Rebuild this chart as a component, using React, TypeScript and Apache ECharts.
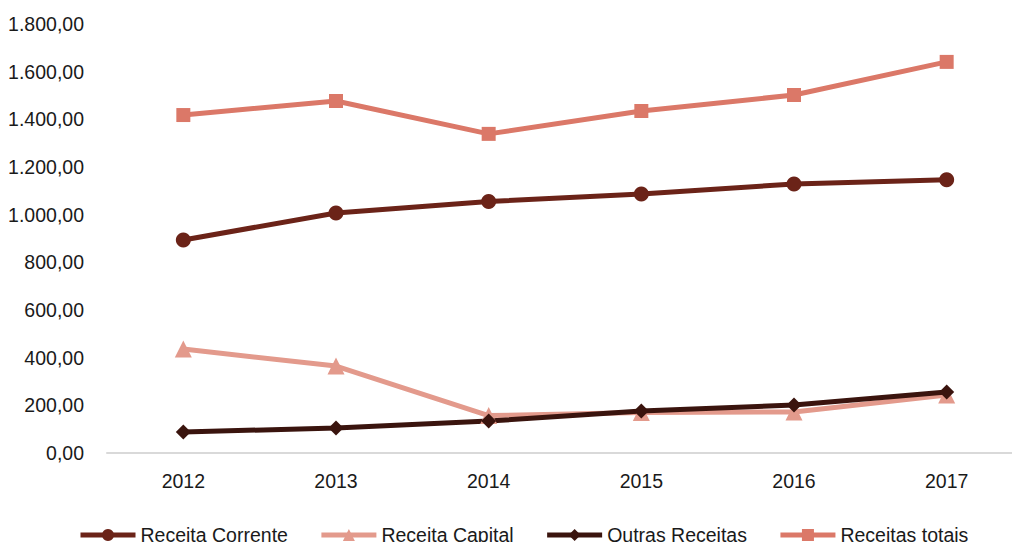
import React, { useEffect, useRef } from "react";
import * as echarts from "echarts";

const years = ["2012", "2013", "2014", "2015", "2016", "2017"];
const receitaCorrente = [894, 1007, 1055, 1087, 1129, 1146];
const receitaCapital = [436, 365, 157, 170, 172, 243];
const outrasReceitas = [88, 105, 134, 176, 201, 256];
const receitasTotais = [1418, 1477, 1339, 1435, 1502, 1641];

const FONT = "'Liberation Sans', Arial, sans-serif";

function fmt(v: number): string {
  const fixed = Math.abs(v).toFixed(2);
  const [intPart, dec] = fixed.split(".");
  const withDots = intPart.replace(/\B(?=(\d{3})+(?!\d))/g, ".");
  return (v < 0 ? "-" : "") + withDots + "," + dec;
}

export default function App() {
  const ref = useRef<HTMLDivElement>(null);
  useEffect(() => {
    if (!ref.current) return;
    const chart = echarts.init(ref.current, null, { renderer: "svg" });
    const mk = (name: string, data: number[], color: string, symbol: string, size: number) => ({
      name,
      type: "line",
      data,
      symbol,
      symbolSize: size,
      lineStyle: { color, width: 5 },
      itemStyle: { color },
      emphasis: { disabled: true },
    });
    chart.setOption({
      animation: false,
      textStyle: { fontFamily: FONT },
      grid: { left: 107, top: 24, right: 7, height: 429 },
      xAxis: {
        type: "category",
        data: years,
        boundaryGap: true,
        axisLine: { lineStyle: { color: "#D9D9D9", width: 2 } },
        axisTick: { show: false },
        axisLabel: { color: "#1a1a1a", fontSize: 19.5, fontFamily: FONT, margin: 18 },
      },
      yAxis: {
        type: "value",
        min: 0,
        max: 1800,
        interval: 200,
        axisLine: { show: false },
        axisTick: { show: false },
        splitLine: { show: false },
        axisLabel: { color: "#1a1a1a", fontSize: 19.5, fontFamily: FONT, margin: 23, formatter: (v: number) => fmt(v) },
      },
      legend: {
        left: 73,
        top: 520,
        itemWidth: 55,
        itemHeight: 15,
        itemGap: 31,
        lineStyle: { width: 5 },
        textStyle: { fontSize: 19.5, color: "#1a1a1a", fontFamily: FONT },
        data: ["Receita Corrente", "Receita Capital", "Outras Receitas", "Receitas totais"],
      },
      series: [
        mk("Receita Corrente", receitaCorrente, "#6B2318", "circle", 15),
        mk("Receita Capital", receitaCapital, "#E39A8C", "triangle", 17),
        mk("Outras Receitas", outrasReceitas, "#3A140E", "diamond", 15),
        mk("Receitas totais", receitasTotais, "#DB7868", "rect", 14),
      ],
    });
    return () => chart.dispose();
  }, []);
  return (
    <div
      ref={ref}
      style={{ position: "fixed", left: 0, top: 0, width: 1030, height: 542, background: "#fff" }}
    />
  );
}
